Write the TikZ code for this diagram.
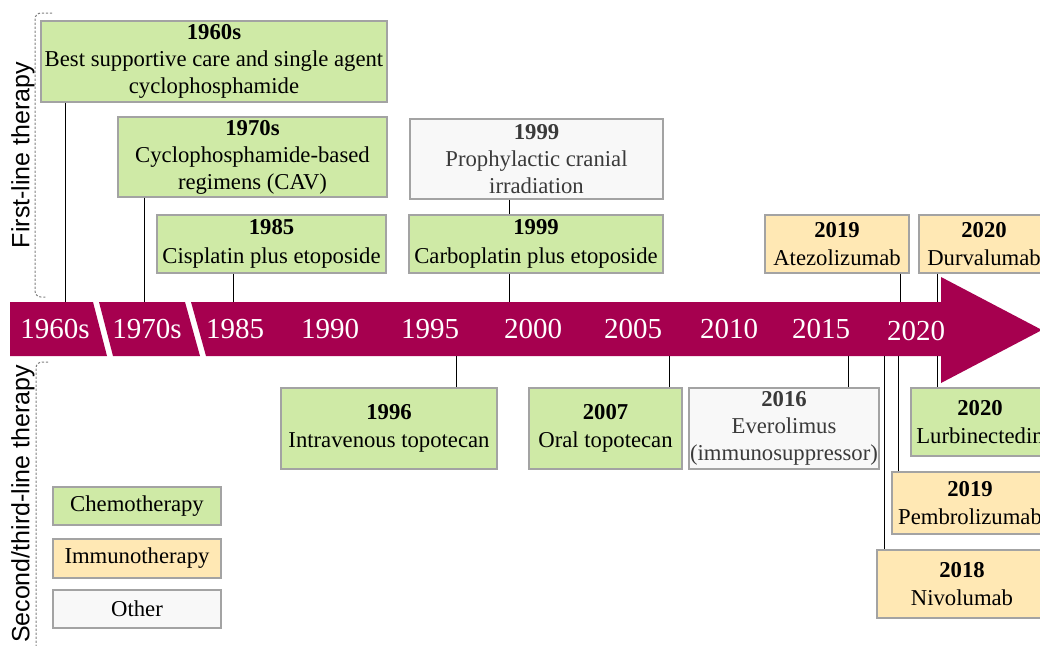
\documentclass[tikz,border=0pt]{standalone}
\usepackage{fontspec}
\setmainfont{Liberation Serif}
\setsansfont{Liberation Sans}
\definecolor{chemogreen}{HTML}{CFEAA6}
\definecolor{immunoyellow}{HTML}{FFE8B4}
\definecolor{otherwhite}{HTML}{F8F8F8}
\definecolor{bordergray}{HTML}{A3A3A3}
\definecolor{arrowred}{HTML}{A6004F}
\definecolor{othertext}{HTML}{3A3A3A}
\definecolor{bracketgray}{HTML}{808080}
\begin{document}
\begin{tikzpicture}[x=1pt,y=-1pt,
  box/.style={draw=bordergray, line width=1.3pt, inner sep=0pt, align=center,
    font=\fontsize{22.7}{28.5}\selectfont},
  box3/.style={box, font=\fontsize{22.7}{27}\selectfont},
  chemo/.style={fill=chemogreen},
  immuno/.style={fill=immunoyellow},
  other/.style={fill=otherwhite, text=othertext},
  legendother/.style={fill=otherwhite},
  yearlabel/.style={text=white, font=\fontsize{29}{30}\selectfont, inner sep=0pt},
  sidelabel/.style={rotate=90, font=\sffamily\fontsize{25}{27}\selectfont, inner sep=0pt},
  conn/.style={draw=black, line width=0.9pt},
  bracket/.style={draw=bracketgray, line width=1pt, dash pattern=on 2.2pt off 1.8pt, rounded corners=6pt}]
\useasboundingbox (0,0) rectangle (1040,645);
\clip (0,0) rectangle (1040,645);

% timeline band
\fill[arrowred] (10,302) -- (93,302) -- (107,356) -- (10,356) -- cycle;
\fill[arrowred] (99,302) -- (185,302) -- (200,356) -- (113,356) -- cycle;
\fill[arrowred] (191,302) -- (941,302) -- (941,277) -- (1042,330) -- (941,383) -- (941,356) -- (206,356) -- cycle;

% year labels
\node[yearlabel] (y1960) at (55,329) {1960s};
\node[yearlabel] (y1970) at (147,329) {1970s};
\node[yearlabel] (y1985) at (235,329) {1985};
\node[yearlabel] (y1990) at (330,329) {1990};
\node[yearlabel] (y1995) at (430,329) {1995};
\node[yearlabel] (y2000) at (533,329) {2000};
\node[yearlabel] (y2005) at (633,329) {2005};
\node[yearlabel] (y2010) at (729,329) {2010};
\node[yearlabel] (y2015) at (821,329) {2015};
\node[yearlabel] (y2020) at (916,331) {2020};

% band anchor coordinates
\coordinate (t1960) at (65,302);
\coordinate (t1970) at (144,302);
\coordinate (t1985) at (233,302);
\coordinate (t1999) at (509,302);
\coordinate (t2019) at (900,302);
\coordinate (t2020) at (937,302);
\coordinate (b1996) at (456,356);
\coordinate (b2007) at (669,356);
\coordinate (b2016) at (848,356);
\coordinate (b2020) at (937,356);
\coordinate (b2019) at (898,356);
\coordinate (b2018) at (884,356);

% side brackets
\draw[bracket] (52,13) -- (35,13) -- (35,297) -- (47,297);
\draw[bracket] (48,362) -- (36,362) -- (36,660);
\node[sidelabel] (first) at (23,155) {First-line therapy};
\node[sidelabel] (second) at (23,504) {Second/third-line therapy};

% first-line boxes
\node[box3, chemo, minimum width=346pt, minimum height=81pt] (n1960) at (214,61.5)
  {\textbf{1960s}\\Best supportive care and single agent\\cyclophosphamide};
\node[box3, chemo, minimum width=269pt, minimum height=80pt] (n1970) at (252.5,157)
  {\textbf{1970s}\\Cyclophosphamide-based\\regimens (CAV)};
\node[box, chemo, minimum width=229pt, minimum height=58pt] (n1985) at (271.5,244)
  {\textbf{1985}\\Cisplatin plus etoposide};
\node[box3, other, minimum width=253pt, minimum height=80pt] (nPCI) at (536.5,159)
  {\textbf{1999}\\Prophylactic cranial\\irradiation};
\node[box, chemo, minimum width=254pt, minimum height=58pt] (nCarbo) at (536,244)
  {\textbf{1999}\\Carboplatin plus etoposide};
\node[box, immuno, minimum width=144pt, minimum height=58pt] (nAtezo) at (837,244)
  {\textbf{2019}\\Atezolizumab};
\node[box, immuno, minimum width=130pt, minimum height=58pt] (nDurva) at (984,244)
  {\textbf{2020}\\Durvalumab};

% second-line boxes
\node[box, chemo, minimum width=216pt, minimum height=81pt] (n1996) at (389,428.5)
  {\textbf{1996}\\Intravenous topotecan};
\node[box, chemo, minimum width=153pt, minimum height=81pt] (n2007) at (605.5,428.5)
  {\textbf{2007}\\Oral topotecan};
\node[box3, other, minimum width=190pt, minimum height=81pt] (n2016) at (784,428.5)
  {\textbf{2016}\\Everolimus\\(immunosuppressor)};
\node[box, chemo, minimum width=138pt, minimum height=68pt] (nLurbi) at (980,422)
  {\textbf{2020}\\Lurbinectedin};
\node[box, immuno, minimum width=156pt, minimum height=62pt] (nPembro) at (970,503)
  {\textbf{2019}\\Pembrolizumab};
\node[box, immuno, minimum width=170pt, minimum height=68pt] (nNivo) at (962,584)
  {\textbf{2018}\\Nivolumab};

% legend
\node[box, chemo, minimum width=168pt, minimum height=38pt] (lchemo) at (137,506) {Chemotherapy};
\node[box, immuno, minimum width=168pt, minimum height=39pt] (limmuno) at (137,558.5) {Immunotherapy};
\node[box, legendother, minimum width=168pt, minimum height=38pt] (lother) at (137,609) {Other};

% connectors
\draw[conn] (t1960 |- n1960.south) -- (t1960);
\draw[conn] (t1970 |- n1970.south) -- (t1970);
\draw[conn] (t1985 |- n1985.south) -- (t1985);
\draw[conn] (t1999 |- nPCI.south) -- (t1999 |- nCarbo.north);
\draw[conn] (t1999 |- nCarbo.south) -- (t1999);
\draw[conn] (t2019 |- nAtezo.south) -- (t2019);
\draw[conn] (t2020 |- nDurva.south) -- (t2020);
\draw[conn] (b1996) -- (b1996 |- n1996.north);
\draw[conn] (b2007) -- (b2007 |- n2007.north);
\draw[conn] (b2016) -- (b2016 |- n2016.north);
\draw[conn] (b2020) -- (b2020 |- nLurbi.north);
\draw[conn] (b2019) -- (b2019 |- nPembro.north);
\draw[conn] (b2018) -- (b2018 |- nNivo.north);
\end{tikzpicture}
\end{document}
